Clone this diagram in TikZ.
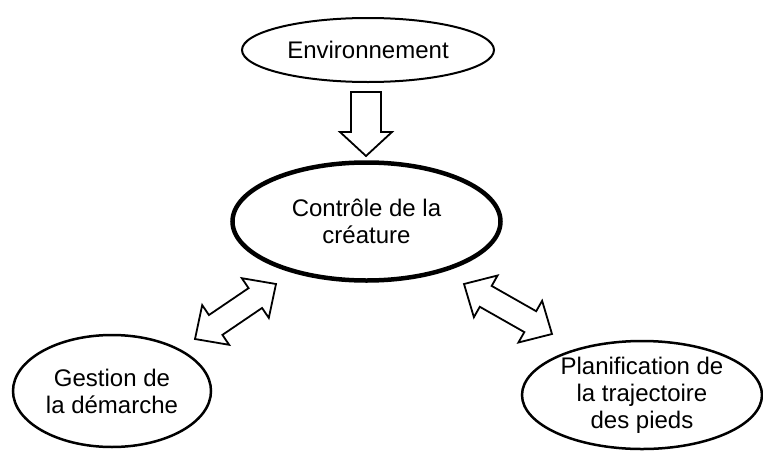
\documentclass[tikz,border=0pt]{standalone}
\usepackage{fontspec}
\setmainfont{Liberation Sans}
\usetikzlibrary{shapes.geometric,calc}
\newcommand\fatsingle[5]{% tail, tip, head length, head half width, shaft half width
  \draw[fatarrow] ($(#1)!#5!90:(#2)$) -- ($(#2)!#3!(#1)!#5!-90:(#1)$) -- ($(#2)!#3!(#1)!#4!-90:(#1)$) -- (#2)
    -- ($(#2)!#3!(#1)!#4!90:(#1)$) -- ($(#2)!#3!(#1)!#5!90:(#1)$) -- ($(#1)!#5!-90:(#2)$) -- cycle;}
\newcommand\fatdouble[5]{% tip a, tip b, head length, head half width, shaft half width
  \draw[fatarrow] (#1) -- ($(#1)!#3!(#2)!#4!90:(#2)$) -- ($(#1)!#3!(#2)!#5!90:(#2)$)
    -- ($(#2)!#3!(#1)!#5!-90:(#1)$) -- ($(#2)!#3!(#1)!#4!-90:(#1)$) -- (#2)
    -- ($(#2)!#3!(#1)!#4!90:(#1)$) -- ($(#2)!#3!(#1)!#5!90:(#1)$)
    -- ($(#1)!#3!(#2)!#5!-90:(#2)$) -- ($(#1)!#3!(#2)!#4!-90:(#2)$) -- cycle;}
\begin{document}
\begin{tikzpicture}[x=1pt,y=-1pt,
  bubble/.style={draw, ellipse, inner sep=0pt, align=center, font=\fontsize{24}{27}\selectfont},
  fatarrow/.style={draw, line width=1.8pt, line join=miter, fill=white}]
\useasboundingbox (0,0) rectangle (763,450);
\begin{scope}
\clip (0,0) rectangle (763,450);
\node[bubble, line width=2pt, minimum width=252pt, minimum height=64pt] (env) at (368,50) {Environnement};
\node[bubble, line width=4.5pt, minimum width=268pt, minimum height=118pt] (ctrl) at (366.5,221.5) {Contrôle de la\\créature};
\node[bubble, line width=2.5pt, minimum width=198pt, minimum height=112pt] (gest) at (112,391) {Gestion de\\la démarche};
\node[bubble, line width=2.5pt, minimum width=240pt, minimum height=104pt] (plan) at (642,395) {Planification de\\la trajectoire\\des pieds};
\end{scope}
\coordinate (d1) at (366,92);
\coordinate (d2) at (366,156);
\coordinate (l1) at (195,339);
\coordinate (l2) at (276,284);
\coordinate (r1) at (464,284);
\coordinate (r2) at (552,334);
\fatsingle{d1}{d2}{24pt}{26pt}{15pt}
\fatdouble{l1}{l2}{25pt}{24pt}{12pt}
\fatdouble{r1}{r2}{25pt}{24pt}{12pt}
\end{tikzpicture}
\end{document}
